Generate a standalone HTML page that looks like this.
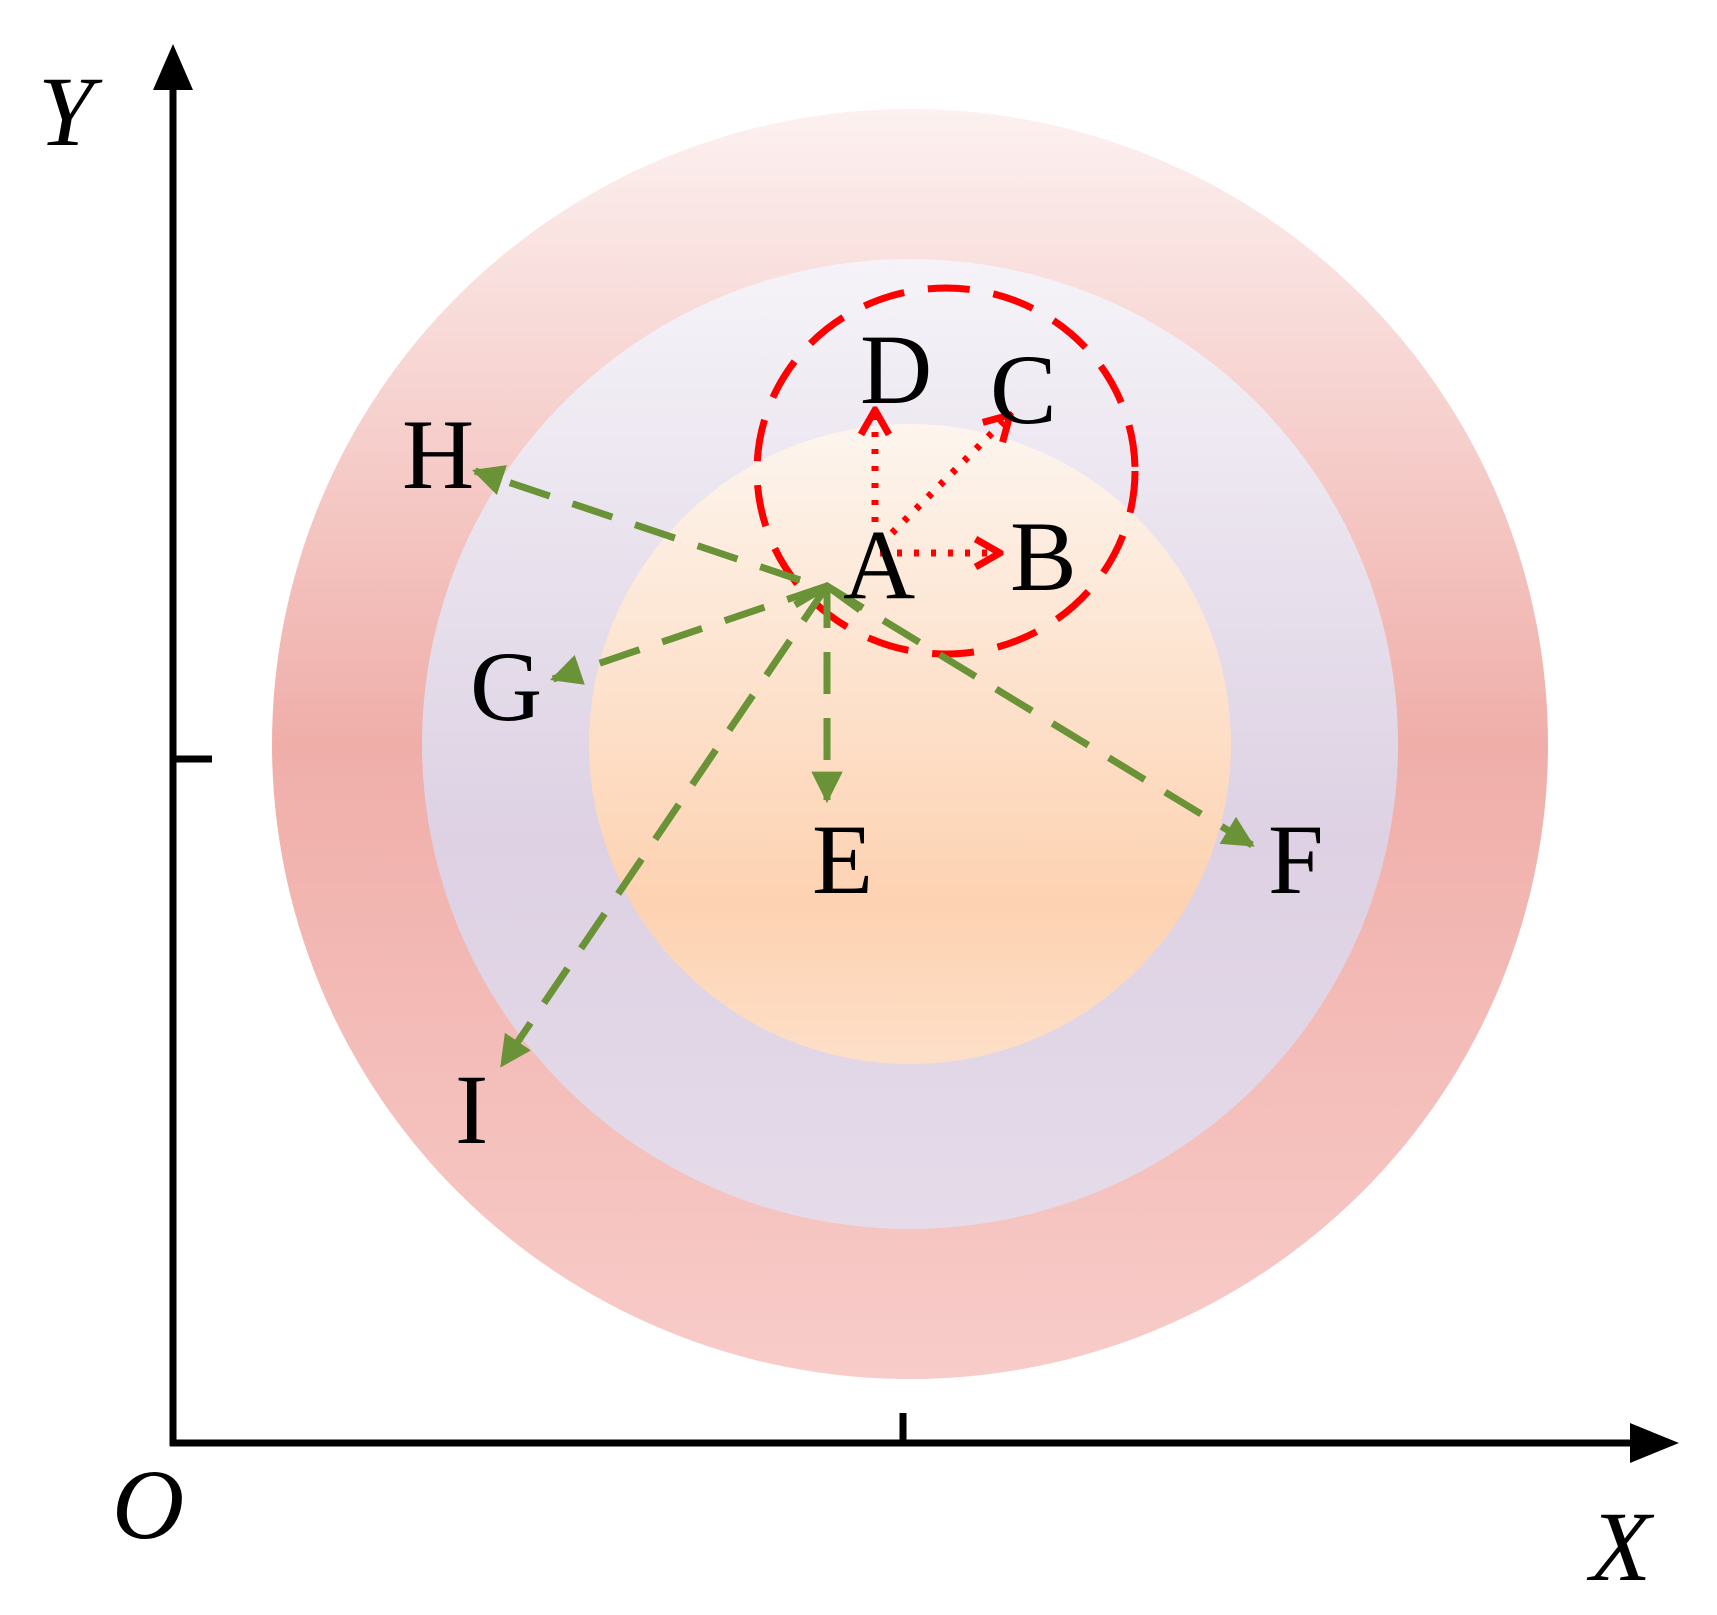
<!DOCTYPE html>
<html><head><meta charset="utf-8"><style>html,body{margin:0;padding:0;background:#fff}svg{display:block}
text{font-family:"Liberation Serif","Times New Roman",serif;font-size:100px;fill:#000}
.it{font-style:italic}</style></head>
<body>
<svg width="1717" height="1615" viewBox="0 0 1717 1615" xmlns="http://www.w3.org/2000/svg">
<defs>
<linearGradient id="go" x1="0" y1="0" x2="0" y2="1">
<stop offset="0" stop-color="#fcf1f0"/><stop offset="0.5" stop-color="#f0aea9"/><stop offset="1" stop-color="#f8ccc9"/></linearGradient>
<linearGradient id="gm" x1="0" y1="0" x2="0" y2="1">
<stop offset="0" stop-color="#f5f3f8"/><stop offset="0.6" stop-color="#ddd1e3"/><stop offset="1" stop-color="#e5dbe9"/></linearGradient>
<linearGradient id="gi" x1="0" y1="0" x2="0" y2="1">
<stop offset="0" stop-color="#fdf5ee"/><stop offset="0.75" stop-color="#fdd2b1"/><stop offset="1" stop-color="#fddfc8"/></linearGradient>
<marker id="ga" viewBox="0 0 10 10" refX="9" refY="5" markerWidth="4.5" markerHeight="4.5" orient="auto"><path d="M0,0 L10,5 L0,10 z" fill="#6a9236"/></marker>
<marker id="ra" viewBox="0 0 10 10" refX="9" refY="5" markerWidth="5" markerHeight="5" orient="auto"><path d="M2,1 L9,5 L2,9" fill="none" stroke="#ff0000" stroke-width="2"/></marker>
</defs>
<ellipse cx="910" cy="744" rx="638" ry="635" fill="url(#go)"/>
<ellipse cx="910" cy="744" rx="488" ry="485" fill="url(#gm)"/>
<ellipse cx="910" cy="744" rx="321" ry="320" fill="url(#gi)"/>
<ellipse cx="946" cy="471" rx="189" ry="183" fill="none" stroke="#ff0000" stroke-width="7" stroke-dasharray="42 24"/>
<g stroke="#ff0000" stroke-width="7" stroke-dasharray="5 12" fill="none">
<line x1="875" y1="522" x2="875" y2="410" marker-end="url(#ra)"/>
<line x1="880" y1="553" x2="1000" y2="553" marker-end="url(#ra)"/>
<line x1="880" y1="545" x2="1010" y2="415" marker-end="url(#ra)"/>
</g>
<g stroke="#6a9236" stroke-width="7" stroke-dasharray="42 24" fill="none">
<line x1="800" y1="580" x2="475" y2="471" marker-end="url(#ga)"/>
<line x1="827" y1="586" x2="553" y2="679" marker-end="url(#ga)"/>
<line x1="827" y1="586" x2="827" y2="800" marker-end="url(#ga)"/>
<line x1="827" y1="586" x2="1252" y2="845" marker-end="url(#ga)"/>
<line x1="827" y1="586" x2="502" y2="1065" marker-end="url(#ga)"/>
<polyline points="795,605 827,586 860,610" stroke-dasharray="none"/>
</g>
<g stroke="#000" stroke-width="7" fill="none">
<line x1="173" y1="90" x2="173" y2="1446"/>
<line x1="170" y1="1443" x2="1635" y2="1443"/>
<line x1="173" y1="759" x2="212" y2="759"/>
<line x1="903" y1="1413" x2="903" y2="1443"/>
</g>
<path d="M173,44 L153,90 L193,90 z" fill="#000"/>
<path d="M1679,1443 L1630,1423 L1630,1463 z" fill="#000"/>
<text x="843" y="598">A</text>
<text x="1010" y="590">B</text>
<text x="990" y="423">C</text>
<text x="860" y="403">D</text>
<text x="812" y="893">E</text>
<text x="1268" y="893">F</text>
<text x="470" y="720">G</text>
<text x="402" y="488">H</text>
<text x="455" y="1143">I</text>
<text class="it" x="38" y="145">Y</text>
<text class="it" x="112" y="1538">O</text>
<text class="it" x="1590" y="1580">X</text>
</svg>
</body></html>
